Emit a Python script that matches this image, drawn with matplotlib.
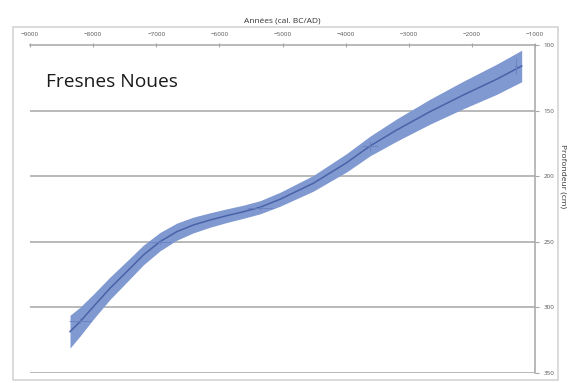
import numpy as np
import matplotlib
matplotlib.use("Agg")
import matplotlib.pyplot as plt
from matplotlib.patches import Rectangle

# courbe âge-profondeur
annees = [-8366, -8208, -7997, -7733, -7468, -7205, -6941, -6676, -6413, -6148,
          -5884, -5621, -5356, -5040, -4512, -3983, -3614, -3191, -2663, -2136,
          -1607, -1211]
profondeur = [318.5, 310.9, 299.5, 285.4, 272.8, 260.1, 249.9, 242.3, 237.2, 233.4,
              230.1, 227.1, 223.7, 217.6, 205.4, 189.7, 177.0, 164.8, 150.8, 138.1,
              126.1, 116.0]
demi_largeur = [12.5, 11, 9.5, 8.5, 8, 7.5, 7, 6.5, 6, 5.5,
                5.2, 5, 5, 5.3, 6, 7, 7.5, 8.5, 9.5, 10.5,
                11.5, 12]

# dates datées (croix)
dates_x = [-8208, -6941, -5356, -3614, -1300]
dates_y = [310, 250, 224, 177, 116]
err_x = [170, 180, 200, 120, 30]
err_y = [2, 2, 2, 4, 6]

xticks = [-9000, -8000, -7000, -6000, -5000, -4000, -3000, -2000, -1000]
yticks = [100, 150, 200, 250, 300, 350]

plt.rcParams['font.family'] = ['Open Sans', 'DejaVu Sans']
grey = '#a6a6a6'

fig = plt.figure(figsize=(5.85, 3.83), dpi=100)
fig.patches.append(Rectangle((13 / 585, 1 - 380 / 383), (558 - 13) / 585, (380 - 27) / 383,
                             transform=fig.transFigure, fill=False, edgecolor='#d4d4d4', linewidth=1.2))
ax = fig.add_axes([30 / 585, 1 - 373 / 383, 505 / 585, 328 / 383])

x = np.array(annees)
y = np.array(profondeur)
w = np.array(demi_largeur)
ax.fill_between(x, y - w, y + w, color='#8099d1', linewidth=0, zorder=3)
ax.plot(x, y, color='#4a63a8', linewidth=1.1, zorder=4)
ax.errorbar(dates_x, dates_y, xerr=err_x, yerr=err_y, fmt='none', ecolor='#6a80bd',
            elinewidth=0.6, capsize=0, zorder=5)

for yt in yticks[1:]:
    ax.axhline(yt, color=grey, linewidth=1.1, zorder=1)

ax.set_xlim(-9000, -1000)
ax.set_ylim(350, 100)
ax.set_xticks(xticks)
ax.set_yticks(yticks)
ax.xaxis.tick_top()
ax.yaxis.tick_right()
ax.xaxis.set_label_position('top')
ax.yaxis.set_label_position('right')
ax.tick_params(axis='x', direction='inout', length=3, width=0.8, color=grey,
               labelsize=4.5, labelcolor='#555555', pad=4)
ax.tick_params(axis='y', direction='out', length=3, width=0.8, color=grey,
               labelsize=4.5, labelcolor='#555555', pad=3)
for s in ['left', 'bottom']:
    ax.spines[s].set_visible(False)
for s in ['top', 'right']:
    ax.spines[s].set_color(grey)
    ax.spines[s].set_linewidth(1.1)

ax.set_xlabel('Années (cal. BC/AD)', fontsize=6, color='#333333', labelpad=7)
ax.set_ylabel('Profondeur (cm)', fontsize=6, color='#333333', rotation=270)
ax.yaxis.set_label_coords(1.063, 0.6)

ax.text(-8750, 132, 'Fresnes Noues', fontsize=13.8, color='#1a1a1a', va='baseline', ha='left')

fig.savefig('out.png', dpi=100)
